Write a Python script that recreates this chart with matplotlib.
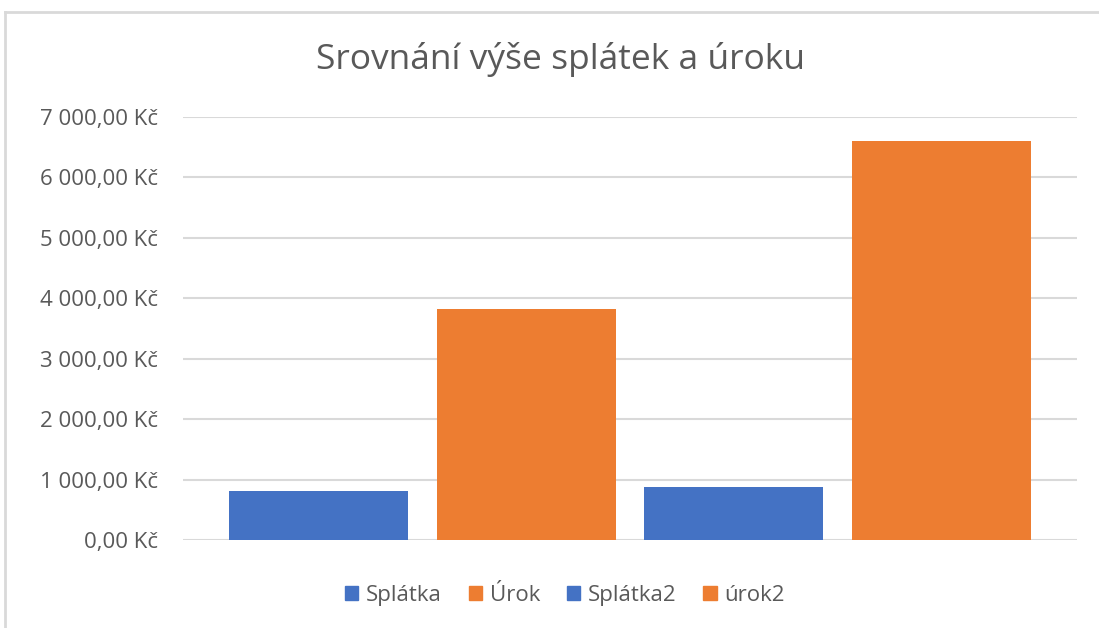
import matplotlib.pyplot as plt
from matplotlib.patches import Patch
from matplotlib.ticker import FuncFormatter

# data
nazvy = ["Splátka", "Úrok", "Splátka2", "úrok2"]
hodnoty = [806, 3819, 872, 6610]
barvy = ["#4472C4", "#ED7D31", "#4472C4", "#ED7D31"]
yticky = [0, 1000, 2000, 3000, 4000, 5000, 6000, 7000]

plt.rcParams['font.family'] = ['Open Sans', 'DejaVu Sans']
seda = "#595959"


def kc(v, pos):
    s = "{:,.2f}".format(v).replace(",", " ").replace(".", ",")
    return s + " Kč"


fig = plt.figure(figsize=(10.99, 6.28), dpi=100)
ax = fig.add_axes([0.1665, 0.1401, 0.8135, 0.6736])

x = list(range(len(nazvy)))
ax.bar(x, hodnoty, width=0.862, color=barvy, zorder=3)
ax.set_xlim(-0.652, 3.652)
ax.set_ylim(0, 7000)
ax.set_yticks(yticky)
ax.yaxis.set_major_formatter(FuncFormatter(kc))
ax.set_xticks([])
ax.grid(axis="y", color="#D9D9D9", linewidth=1.5, zorder=0)
ax.tick_params(axis="y", length=0, pad=18, labelsize=16, labelcolor=seda)
for s in ax.spines.values():
    s.set_visible(False)

fig.text(0.51, 0.905, "Srovnání výše splátek a úroku", ha="center", va="center",
         fontsize=25.5, color=seda)

handles = [Patch(facecolor=c, edgecolor=c) for c in barvy]
fig.legend(handles, nazvy, loc="center", bbox_to_anchor=(0.514, 0.052), ncol=4,
           frameon=False, fontsize=16, labelcolor=seda, handlelength=0.6,
           handleheight=0.6, handletextpad=0.35, columnspacing=1.2)

# light frame of the chart area
fig.add_artist(plt.Line2D([0.005, 0.005], [0, 0.981], color="#D9D9D9", linewidth=2,
                          transform=fig.transFigure))
fig.add_artist(plt.Line2D([0.005, 1], [0.981, 0.981], color="#D9D9D9", linewidth=2,
                          transform=fig.transFigure))

fig.savefig("out.png", dpi=100)
